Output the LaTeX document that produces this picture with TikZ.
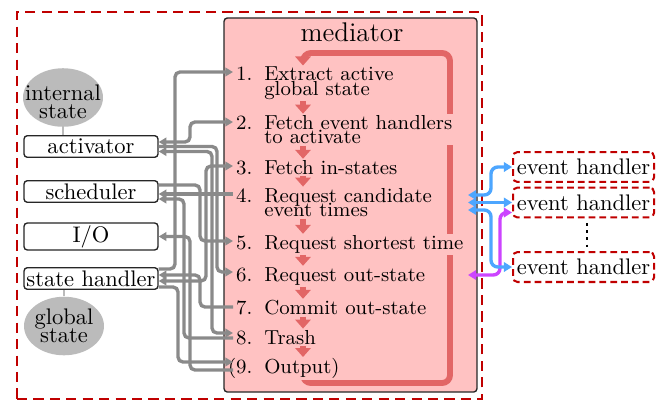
\documentclass[tikz,border=0pt]{standalone}
\usetikzlibrary{arrows.meta,shapes.geometric,backgrounds}
\definecolor{medfill}{RGB}{255,194,194}
\definecolor{loopred}{RGB}{226,102,102}
\definecolor{darkred}{RGB}{192,0,0}
\definecolor{wire}{RGB}{138,138,138}
\definecolor{ellgray}{RGB}{187,187,187}
\definecolor{ehblue}{RGB}{77,166,255}
\definecolor{ehmag}{RGB}{204,68,255}
\newcommand{\slab}[1]{\makebox[11pt][r]{#1}\hspace{5.3pt}}
\newcommand{\sind}{\hspace*{16.3pt}}
\begin{document}
\begin{tikzpicture}[x=0.444pt,y=-0.444pt,
  leftbox/.style={draw=black!85, line width=0.6pt, fill=white, rounded corners=1.5pt,
    minimum width=59.5pt, minimum height=9.6pt, inner sep=1pt},
  stateell/.style={ellipse, fill=ellgray, minimum width=35.5pt, minimum height=26pt, inner sep=0pt},
  elltext/.style={align=center, inner sep=0pt},
  ellink/.style={draw=ellgray, line width=1pt},
  ehbox/.style={draw=darkred, dash pattern=on 3pt off 1.8pt, line width=0.9pt, fill=white,
    rounded corners=2pt, minimum width=62.6pt, minimum height=13.3pt, inner sep=1pt},
  stepnode/.style={font=\small, anchor=north west, inner sep=0.5pt, fill=medfill, align=left},
  flow/.style={draw=loopred, line width=2.6pt, -{Triangle[length=4pt,width=6.8pt]}},
  loopline/.style={draw=loopred, line width=2.6pt, rounded corners=3.5pt, -{Triangle[length=4pt,width=6.8pt]}},
  wireline/.style={draw=wire, line width=1.5pt, rounded corners=2.2pt},
  tipr/.style={-{Triangle[length=3.4pt,width=3.8pt]}},
  tipb/.style={{Triangle[length=3.4pt,width=3.8pt]}-{Triangle[length=3.4pt,width=3.8pt]}},
  bluew/.style={draw=ehblue, line width=1.5pt, rounded corners=3pt,
    {Triangle[length=3.6pt,width=4.2pt]}-{Triangle[length=3.6pt,width=4.2pt]}},
  magw/.style={draw=ehmag, line width=1.5pt, rounded corners=3pt,
    {Triangle[length=3.6pt,width=4.2pt]}-{Triangle[length=3.6pt,width=4.2pt]}},
  framebox/.style={draw=darkred, line width=1.1pt, dash pattern=on 4.5pt off 2.8pt,
    minimum width=206.5pt, minimum height=171.8pt, inner sep=0pt},
  medbox/.style={draw=black!85, line width=0.6pt, fill=medfill, rounded corners=1.5pt,
    minimum width=112.3pt, minimum height=166.1pt, inner sep=0pt}
]
\useasboundingbox (0,0) rectangle (664,401);

% left column
\node[leftbox] (act) at (91,146.5) {activator};
\node[leftbox] (sch) at (91,191.5) {scheduler};
\node[leftbox] (io) at (91,236.5) {I/O};
\node[leftbox] (sh) at (91,278.5) {state handler};

\node[stateell] (ie) at (63,97.5) {};
\node[elltext] (iet) at ([shift={(0,4)}]ie.center) {internal\\[-4pt]state};
\node[stateell] (ge) at (64,326) {};
\node[elltext] (get) at (ge.center) {global\\[-4pt]state};
\draw[ellink] (ie.south) -- (ie.south |- act.north);
\draw[ellink] (ge.north |- sh.south) -- (ge.north);

% mediator steps
\node (medlab) at (352,32) {\large mediator};
\node[stepnode] (s1) at (226,65.5) {\slab{1.}Extract active\\[-4.5pt]\sind global state};
\node[stepnode] (s2) at (226,113.7) {\slab{2.}Fetch event handlers\\[-4.5pt]\sind to activate};
\node[stepnode] (s3) at (226,158.8) {\slab{3.}Fetch in-states};
\node[stepnode] (s4) at (226,186.6) {\slab{4.}Request candidate\\[-4.5pt]\sind event times};
\node[stepnode] (s5) at (226,233.8) {\slab{5.}Request shortest time};
\node[stepnode] (s6) at (226,265.8) {\slab{6.}Request out-state};
\node[stepnode] (s7) at (226,298.8) {\slab{7.}Commit out-state};
\node[stepnode] (s8) at (226,328.6) {\slab{8.}Trash};
\node[stepnode] (s9) at (226,357) {\slab{(9.}Output)};

\coordinate (lx) at (303,0);
\coordinate (lbr) at (450,383);
\coordinate (ltl) at (303,53);

\begin{scope}[on background layer]
  \node[framebox] (frame) at (249.5,205.5) {};
  \node[medbox] (med) at (350.5,205) {};
  \draw[loopline] (s9.center -| lx) |- (lbr) |- (ltl) -- (s1.north -| lx);
\end{scope}

\draw[flow] (s1.south -| lx) -- (s2.north -| lx);
\draw[flow] (s2.south -| lx) -- (s3.north -| lx);
\draw[flow] (s3.south -| lx) -- (s4.north -| lx);
\draw[flow] (s4.south -| lx) -- (s5.north -| lx);
\draw[flow] (s5.south -| lx) -- (s6.north -| lx);
\draw[flow] (s6.south -| lx) -- (s7.north -| lx);
\draw[flow] (s7.south -| lx) -- (s8.north -| lx);
\draw[flow] (s8.south -| lx) -- (s9.north -| lx);

% ports on the mediator
\coordinate (m1) at (233,72);
\coordinate (m2) at (233,122);
\coordinate (m3) at (233,166);
\coordinate (m4) at (233,194);
\coordinate (m5) at (233,241);
\coordinate (m6) at (233,272);
\coordinate (m7) at (233,307);
\coordinate (m8a) at (233,333);
\coordinate (m8b) at (233,338);
\coordinate (m9a) at (233,362);
\coordinate (m9b) at (233,370);
% channels
\coordinate (ka) at (175,0);
\coordinate (kb) at (178,0);
\coordinate (kc) at (184,0);
\coordinate (kd) at (190,0);
\coordinate (ke) at (200,0);
\coordinate (kf) at (206,0);
\coordinate (kg) at (212,0);
\coordinate (kh) at (217,0);
% ports on the boxes
\coordinate (a1) at ([shift={(0,-4.5)}]act.east);
\coordinate (a2) at (act.east);
\coordinate (a3) at ([shift={(0,5)}]act.east);
\coordinate (c1) at ([shift={(0,-6.5)}]sch.east);
\coordinate (c3) at ([shift={(0,7.5)}]sch.east);
\coordinate (h1) at ([shift={(0,-9.5)}]sh.east);
\coordinate (h2) at ([shift={(0,-3.5)}]sh.east);
\coordinate (h3) at ([shift={(0,2.5)}]sh.east);
\coordinate (h4) at ([shift={(0,8.5)}]sh.east);

\draw[wireline,tipr] (h1) -| (m1 -| ka) -- (m1);
\draw[wireline,tipb] (a1) -| (m2 -| kd) -- (m2);
\draw[wireline,tipr] (a2) -| (m6 -| kh) -- (m6);
\draw[wireline,tipb] (a3) -| (m8a -| kg) -- (m8a);
\draw[wireline,tipr] (m4) -- (m4 -| sch.east);
\draw[wireline,tipr] (c1) -| (m5 -| ke) -- (m5);
\draw[wireline,tipr] (m8b) -| (c3 -| kc) -- (c3);
\draw[wireline,tipr] (m9b) -| (io.east -| kd) -- (io.east);
\draw[wireline,tipr] (m7) -| (h2 -| ke) -- (h2);
\draw[wireline,tipb] (h3) -| (m3 -| kf) -- (m3);
\draw[wireline,tipr] (h4) -| (m9a -| kb) -- (m9a);

% event handlers
\node[ehbox] (eh1) at (583.5,167) {event handler};
\node[ehbox] (eh2) at (583.5,202.5) {event handler};
\node[ehbox] (eh3) at (583.5,267) {event handler};
\draw[dotted, line width=1.2pt, shorten <=2pt, shorten >=2pt]
  ([shift={(3.5,0)}]eh2.south) -- ([shift={(3.5,0)}]eh3.north);

\coordinate (bx) at (468,0);
\coordinate (b1) at (468,195);
\coordinate (b3) at (468,210);
\coordinate (b4) at (468,275);
\coordinate (q1) at (491,0);
\coordinate (q4) at (500,0);
\coordinate (e2m) at ([shift={(0,10)}]eh2.west);
\draw[bluew] (b1) -| (eh1.west -| q1) -- (eh1.west);
\draw[bluew] (eh2.west -| bx) -- (eh2.west);
\draw[magw] (b4) -| (e2m -| q4) -- (e2m);
\draw[bluew] (b3) -| (eh3.west -| q1) -- (eh3.west);
\end{tikzpicture}
\end{document}
